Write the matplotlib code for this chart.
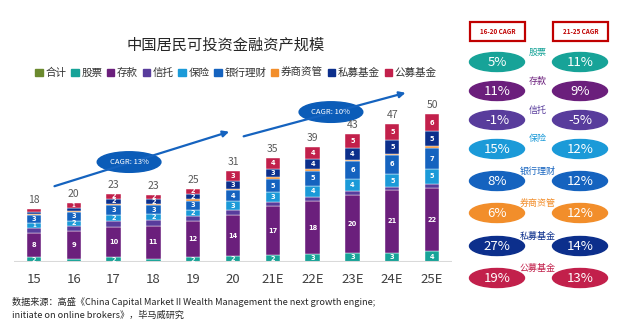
import numpy as np
import matplotlib
matplotlib.use("Agg")
import matplotlib.pyplot as plt
from matplotlib.patches import Ellipse, Rectangle, Patch

plt.rcParams['font.family'] = ['Noto Sans CJK SC', 'DejaVu Sans']

years = ['15', '16', '17', '18', '19', '20', '21E', '22E', '23E', '24E', '25E']
totals = [18, 20, 23, 23, 25, 31, 35, 39, 43, 47, 50]

# 万亿美元, bottom to top
stocks = [1.6, 1.0, 1.6, 1.0, 1.6, 1.9, 2.3, 2.7, 3.1, 3.2, 3.6]
deposits = [8.4, 9.4, 10.3, 11.3, 12.3, 14.2, 16.8, 18.0, 19.6, 21.2, 21.7]
trusts = [1.7, 2.0, 2.1, 2.0, 1.6, 1.7, 1.4, 1.4, 1.5, 1.0, 1.4]
insurance = [1.4, 1.7, 2.1, 2.0, 2.2, 2.8, 3.2, 3.8, 3.9, 4.6, 4.9]
wealth_mgmt = [2.8, 2.9, 3.2, 3.0, 3.2, 4.0, 4.6, 5.1, 6.2, 6.4, 7.2]
broker_am = [0.3, 0.4, 0.5, 0.4, 0.5, 0.4, 0.5, 0.5, 0.5, 0.5, 0.5]
private_funds = [0.7, 1.1, 1.7, 1.6, 1.7, 2.7, 3.0, 3.5, 4.1, 4.6, 5.1]
mutual_funds = [1.0, 1.4, 1.6, 1.6, 1.8, 3.2, 3.6, 4.0, 4.6, 5.4, 5.8]

series_names = ['股票', '存款', '信托', '保险', '银行理财', '券商资管', '私募基金', '公募基金']
series_vals = [stocks, deposits, trusts, insurance, wealth_mgmt, broker_am, private_funds, mutual_funds]
colors = ['#17a398', '#6b1f7c', '#583c9c', '#1b9ad8', '#1563bf', '#f28e2b', '#0c2f8c', '#c2204b']
no_label = {'信托', '券商资管'}

cagr_1620 = ['5%', '11%', '-1%', '15%', '8%', '6%', '27%', '19%']
cagr_2125 = ['11%', '9%', '-5%', '12%', '12%', '12%', '14%', '13%']

W, H = 631, 331
fig = plt.figure(figsize=(W / 100, H / 100), dpi=100)

# bar axes placed in pixel terms
px_per_unit = 2.94
ax_left, ax_w, base_y, ax_top = 14, 438, 262, 60
ax = fig.add_axes([ax_left / W, (H - base_y) / H, ax_w / W, (base_y - ax_top) / H])
ax.set_xlim(-0.5, len(years) - 0.5)
ax.set_ylim(0, (base_y - ax_top) / px_per_unit)

x = np.arange(len(years))
bottom = np.zeros(len(years))
for name, vals, c in zip(series_names, series_vals, colors):
    vals = np.array(vals)
    ax.bar(x, vals, 0.36, bottom=bottom, color=c, edgecolor='white', linewidth=0.3, label=name)
    if name not in no_label:
        for xi, b, v in zip(x, bottom, vals):
            if v < 1.2:
                continue  # too thin to carry a label
            ax.text(xi, b + v / 2, f'{v:.0f}', ha='center', va='center', color='white',
                    fontsize=4.8 if v >= 1.5 else 4.0, fontweight='bold', family='DejaVu Sans')
    bottom += vals

for xi, t, b in zip(x, totals, bottom):
    ax.text(xi, b + 1.4, str(t), ha='center', va='bottom', fontsize=7.5, color='#595959')

ax.axhline(0, color='#d9d9d9', lw=1.5)
ax.set_xticks(x)
ax.set_xticklabels(years, fontsize=9.5, color='#404040')
ax.tick_params(axis='x', length=0, pad=8)
ax.set_yticks([])
for s in ax.spines.values():
    s.set_visible(False)

# CAGR arrows and bubbles
arrow_kw = dict(arrowstyle='-|>', color='#1563bf', lw=1.6, mutation_scale=9)
ax.annotate('', xy=(4.97, 44.6), xytext=(0.45, 25.5), arrowprops=arrow_kw, annotation_clip=False)
ax.annotate('', xy=(9.4, 57.8), xytext=(5.2, 42.5), arrowprops=arrow_kw, annotation_clip=False)
for (cx, cy), txt in [((2.39, 34.0), 'CAGR: 13%'), ((7.46, 51.0), 'CAGR: 10%')]:
    ax.add_patch(Ellipse((cx, cy), 1.6, 7.0, color='#0b5cb8', clip_on=False))
    ax.text(cx, cy, txt, ha='center', va='center', color='white', fontsize=5.5)

# legend
handles = [Patch(color='#6b8a2e', label='合计')] + [Patch(color=c, label=n) for n, c in zip(series_names, colors)]
fig.legend(handles=handles, loc='center', bbox_to_anchor=(236 / W, 1 - 73 / H), ncol=9,
           frameon=False, fontsize=7.6, handlelength=0.7, handleheight=0.7,
           handletextpad=0.25, columnspacing=0.45, labelcolor='#333333')

# overlay in pixel coordinates
ov = fig.add_axes([0, 0, 1, 1], zorder=-1)
ov.set_xlim(0, W)
ov.set_ylim(H, 0)
ov.axis('off')

ov.text(226, 45, '中国居民可投资金融资产规模', ha='center', va='center', fontsize=11, color='#262626')
ov.text(30, 103, '单位：万亿美元', ha='left', va='center', fontsize=6.5, color='#404040')
ov.text(12, 302, '数据来源：高盛《China Capital Market II Wealth Management the next growth engine;',
        ha='left', va='center', fontsize=6.6, color='#262626')
ov.text(12, 315, 'initiate on online brokers》，毕马威研究', ha='left', va='center', fontsize=6.6, color='#262626')

# right panel
for bx, label in [(470, '16-20 CAGR'), (553, '21-25 CAGR')]:
    ov.add_patch(Rectangle((bx, 22), 55, 19, fill=False, edgecolor='#c00000', lw=1.6))
    ov.text(bx + 27.5, 31.5, label, ha='center', va='center', fontsize=4.5, color='#c00000', fontweight='bold')

row_y = [62, 91, 120, 149, 181, 213, 246, 278]
for i, (name, c) in enumerate(zip(series_names, colors)):
    y = row_y[i]
    ov.add_patch(Ellipse((497, y), 55, 19, color=c))
    ov.add_patch(Ellipse((580, y), 55, 19, color=c))
    ov.text(497, y + 0.5, cagr_1620[i], ha='center', va='center', color='white', fontsize=9.5)
    ov.text(580, y + 0.5, cagr_2125[i], ha='center', va='center', color='white', fontsize=9.5)
    ov.text(538, y - 10, name, ha='center', va='center', color=c, fontsize=6.5)

fig.savefig('out.png', dpi=100)
